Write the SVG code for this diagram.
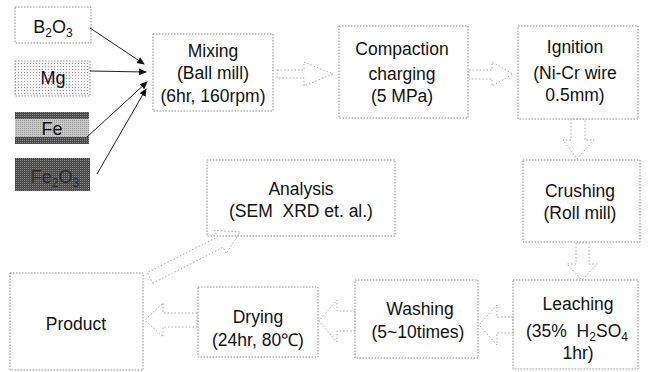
<svg xmlns="http://www.w3.org/2000/svg" width="648" height="372" viewBox="0 0 648 372">
<style>
.box{fill:#fff;stroke:#8c8c8c;stroke-width:1;stroke-dasharray:1.5 1.5}
.t{font-family:"Liberation Sans",Arial,sans-serif;font-size:17.5px;fill:#111;text-anchor:middle}
.s{font-family:"Liberation Sans",Arial,sans-serif;font-size:18px;fill:#111;text-anchor:middle}
.blk{fill:none;stroke:#a8a8a8;stroke-width:1;stroke-dasharray:1.5 2}
.ln{stroke:#222;stroke-width:1;fill:none;marker-end:url(#ah)}
</style>
<defs>
<marker id="ah" markerWidth="8" markerHeight="8" refX="7" refY="4" orient="auto" markerUnits="userSpaceOnUse">
<path d="M0,0.5 L8,4 L0,7.5 Z" fill="#111"/>
</marker>
<pattern id="dots" width="3" height="3" patternUnits="userSpaceOnUse">
<rect width="3" height="3" fill="#f4f4f4"/>
<rect width="1" height="1" fill="#9a9a9a"/>
</pattern>
<pattern id="dark" width="2" height="2" patternUnits="userSpaceOnUse">
<rect width="2" height="2" fill="#4a4a4a"/>
<rect width="1" height="1" fill="#888"/>
</pattern>
<pattern id="mid" width="2" height="2" patternUnits="userSpaceOnUse">
<rect width="2" height="2" fill="#c8c8c8"/>
<rect width="1" height="1" fill="#999"/>
</pattern>
</defs>

<g id="b2o3"><rect class="box" x="15" y="7" width="76" height="36"/>
<text class="s" x="53" y="33">B<tspan font-size="12" dy="4">2</tspan><tspan dy="-4">O</tspan><tspan font-size="12" dy="4">3</tspan></text></g>
<g id="mg"><rect x="15" y="61" width="75" height="35" fill="url(#dots)" stroke="#999" stroke-dasharray="1.5 1.5"/>
<text class="s" x="53" y="84">Mg</text></g>
<g id="fe"><rect x="15" y="112" width="74" height="32" fill="url(#mid)"/>
<rect x="15" y="112" width="74" height="7" fill="url(#dark)"/>
<rect x="15" y="137" width="74" height="7" fill="url(#dark)"/>
<text class="s" x="52" y="135">Fe</text></g>
<g id="fe2o3"><rect x="15" y="158" width="75" height="33" fill="url(#dark)"/>
<text class="s" x="55" y="183" style="fill:#2a2a2a">Fe<tspan font-size="12" dy="4">2</tspan><tspan dy="-4">O</tspan><tspan font-size="12" dy="4">3</tspan></text></g>

<g id="mixing"><rect class="box" x="153" y="34" width="120" height="77"/>
<text class="t" x="213" y="57">Mixing</text>
<text class="t" x="213" y="79">(Ball mill)</text>
<text class="t" x="213" y="102">(6hr, 160rpm)</text></g>
<g id="compaction"><rect class="box" x="339" y="26" width="129" height="92"/>
<text class="t" x="402" y="55">Compaction</text>
<text class="t" x="402" y="80">charging</text>
<text class="t" x="402" y="102">(5 MPa)</text></g>
<g id="ignition"><rect class="box" x="518" y="26" width="120" height="93"/>
<text class="t" x="575" y="53">Ignition</text>
<text class="t" x="575" y="79">(Ni-Cr wire</text>
<text class="t" x="575" y="101">0.5mm)</text></g>
<g id="crushing"><rect class="box" x="523" y="160" width="117" height="82"/>
<text class="t" x="580" y="197">Crushing</text>
<text class="t" x="580" y="219">(Roll mill)</text></g>
<g id="analysis"><rect class="box" x="207" y="160" width="188" height="76"/>
<text class="t" x="301" y="195">Analysis</text>
<text class="t" x="301" y="217" xml:space="preserve">(SEM  XRD et. al.)</text></g>
<g id="leaching"><rect class="box" x="513" y="280" width="125" height="89"/>
<text class="t" x="578" y="310">Leaching</text>
<text class="t" x="577" y="337" xml:space="preserve">(35%  H<tspan font-size="12" dy="4">2</tspan><tspan dy="-4">SO</tspan><tspan font-size="12" dy="4">4</tspan></text>
<text class="t" x="578" y="359">1hr)</text></g>
<g id="washing"><rect class="box" x="355" y="280" width="123" height="78"/>
<text class="t" x="420" y="315">Washing</text>
<text class="t" x="418" y="338">(5~10times)</text></g>
<g id="drying"><rect class="box" x="198" y="287" width="120" height="70"/>
<text class="t" x="258" y="323">Drying</text>
<text class="t" x="258" y="346">(24hr, 80℃)</text></g>
<g id="product"><rect class="box" x="10" y="273" width="133" height="97" stroke="#c8c8c8"/>
<text class="t" x="76" y="330">Product</text></g>

<g id="connectors">
<line class="ln" x1="90" y1="28" x2="144" y2="64"/>
<line class="ln" x1="90" y1="71" x2="146" y2="72"/>
<line class="ln" x1="87" y1="137" x2="147" y2="82"/>
<line class="ln" x1="97" y1="174" x2="146" y2="89"/>
<polygon class="blk" points="277,70 304,70 304,62 333,74 304,86 304,78 277,78"/>
<polygon class="blk" points="469,70 492,70 492,62 513,74 492,86 492,79 469,79"/>
<polygon class="blk" points="571,119 571,140 563,140 577,159 594,140 585,140 585,119"/>
<polygon class="blk" points="576,243 576,264 567,264 582,280 597,264 589,264 589,243"/>
<polygon class="blk" points="513,317 497,317 497,305 479,325 497,345 497,333 513,333"/>
<polygon class="blk" points="355,311 337,311 337,300 319,321 337,342 337,331 355,331"/>
<polygon class="blk" points="197,313 163,313 163,303 145,320 163,337 163,327 197,327"/>
<polygon class="blk" points="152.7,283.3 223.1,247.3 226.3,253.6 240,232 214.5,230.4 217.7,236.7 147.3,272.7"/>
</g>
</svg>
